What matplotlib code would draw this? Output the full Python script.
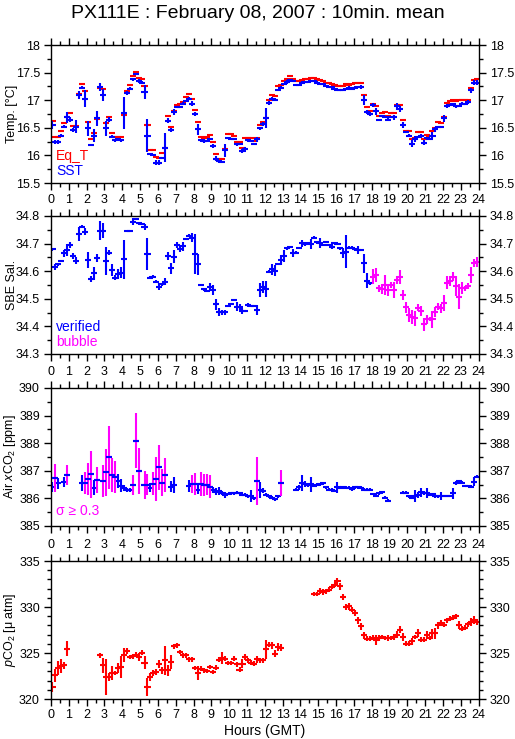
import numpy as np
import matplotlib
matplotlib.use("Agg")
import matplotlib.pyplot as plt
from matplotlib.ticker import MultipleLocator

plt.rcParams['font.family'] = ['Liberation Sans', 'DejaVu Sans']
plt.rcParams['mathtext.fontset'] = 'custom'
plt.rcParams['mathtext.rm'] = 'Liberation Sans'
plt.rcParams['mathtext.it'] = 'Liberation Sans:italic'

N = None
title = "PX111E : February 08, 2007 : 10min. mean"
hour_ticks = list(range(0, 25))

# ---- Panel 1: temperatures (10-min slots, 0..143) ----
sst = [16.55, 16.24, 16.24, 16.36, 16.52, 16.69, 16.65, 16.46, 16.52, 17.09,
       17.23, 17.03, 16.49, 16.19, 16.36, 16.67, 17.24, 17.09, 16.49, 16.65,
       16.34, 16.27, 16.30, 16.27, 16.77, 17.13, 17.21, 17.38, 17.47, 17.35,
       17.32, 17.15, 16.36, 16.03, 16.01, 15.87, 15.87, 15.95, 16.14, 16.63,
       16.46, 16.79, 16.88, 16.88, 16.94, 16.99, 17.03, 16.94, 16.75, 16.47,
       16.27, 16.26, 16.26, 16.30, 16.17, 15.94, 15.89, 15.88, 16.09, 16.32,
       16.30, 16.29, 16.20, 16.20, 16.08, 16.12, 16.27, 16.26, 16.20, 16.29,
       16.49, 16.57, 16.67, 16.95, 17.03, 17.01, 17.19, 17.23, 17.29, 17.33,
       17.36, 17.35, 17.27, 17.27, 17.32, 17.33, 17.33, 17.35, 17.35, 17.32,
       17.30, 17.29, 17.26, 17.24, 17.24, 17.21, 17.18, 17.18, 17.19, 17.21,
       17.23, 17.21, 17.23, 17.24, 17.24, 17.00, 16.79, 16.75, 16.91, 16.80,
       16.64, 16.71, 16.70, 16.65, 16.69, 16.69, 16.89, 16.84, 16.55, 16.43,
       16.36, 16.21, 16.30, 16.34, 16.35, 16.23, 16.32, 16.30, 16.36, 16.47,
       16.52, 16.52, 16.67, 16.89, 16.91, 16.93, 16.89, 16.89, 16.94, 16.93,
       16.97, 17.18, 17.32, 17.32]
sst_sd = [0.08, 0.03, 0.03, 0.03, 0.03, 0.10, 0.05, 0.03, 0.12, 0.07,
          0.03, 0.15, 0.14, 0.02, 0.12, 0.13, 0.08, 0.11, 0.13, 0.05,
          0.03, 0.03, 0.02, 0.03, 0.29, 0.03, 0.03, 0.03, 0.02, 0.03,
          0.02, 0.12, 0.30, 0.02, 0.02, 0.04, 0.04, 0.02, 0.26, 0.05,
          0.04, 0.05, 0.02, 0.02, 0.02, 0.02, 0.02, 0.04, 0.03, 0.10,
          0.03, 0.03, 0.02, 0.02, 0.03, 0.05, 0.02, 0.02, 0.11, 0.02,
          0.02, 0.02, 0.03, 0.02, 0.04, 0.03, 0.02, 0.02, 0.02, 0.05,
          0.03, 0.04, 0.18, 0.03, 0.02, 0.03, 0.02, 0.02, 0.02, 0.03,
          0.02, 0.02, 0.02, 0.02, 0.02, 0.02, 0.02, 0.02, 0.02, 0.02,
          0.02, 0.02, 0.02, 0.02, 0.02, 0.02, 0.02, 0.02, 0.02, 0.02,
          0.02, 0.02, 0.02, 0.02, 0.03, 0.09, 0.04, 0.03, 0.04, 0.06,
          0.02, 0.02, 0.02, 0.03, 0.02, 0.04, 0.06, 0.06, 0.05, 0.02,
          0.03, 0.06, 0.05, 0.02, 0.03, 0.04, 0.02, 0.02, 0.07, 0.04,
          0.02, 0.02, 0.06, 0.04, 0.02, 0.02, 0.03, 0.02, 0.02, 0.02,
          0.03, 0.05, 0.05, 0.04]
eq_t = [16.62, 16.33, 16.33, 16.44, 16.58, 16.70, 16.76, 16.53, 16.53, 17.12,
        17.29, 17.17, 16.60, 16.29, 16.41, 16.66, 17.22, 17.20, 16.59, 16.70,
        16.40, 16.33, 16.34, 16.34, 16.73, 17.16, 17.27, 17.43, 17.51, 17.41,
        17.38, 17.25, 16.55, 16.10, 16.09, 15.97, 15.95, 16.04, 16.13, 16.71,
        16.51, 16.81, 16.92, 16.94, 16.97, 17.05, 17.11, 17.02, 16.82, 16.60,
        16.33, 16.31, 16.33, 16.37, 16.25, 16.03, 15.94, 15.93, 16.12, 16.38,
        16.38, 16.35, 16.25, 16.25, 16.14, 16.31, 16.31, 16.31, 16.26, 16.32,
        16.55, 16.60, 16.67, 17.00, 17.09, 17.07, 17.25, 17.28, 17.35, 17.38,
        17.44, 17.39, 17.35, 17.34, 17.37, 17.38, 17.39, 17.40, 17.40, 17.38,
        17.36, 17.35, 17.31, 17.31, 17.29, 17.27, 17.25, 17.26, 17.26, 17.29,
        17.28, 17.30, 17.31, 17.31, 17.31, 17.10, 16.88, 16.80, 16.93, 16.89,
        16.71, 16.77, 16.78, 16.72, 16.77, 16.77, 16.92, 16.92, 16.64, 16.44,
        16.44, 16.30, 16.32, 16.42, 16.42, 16.30, 16.37, 16.36, 16.45, 16.49,
        16.60, 16.59, 16.69, 16.95, 16.98, 17.00, 16.99, 17.00, 17.00, 17.00,
        17.00, 17.22, 17.37, 17.39]

# ---- Panel 2: SBE salinity ----
sal = [34.679, 34.616, 34.625, 34.637, 34.665, 34.677, 34.695, 34.655, 34.638, 34.734,
       34.761, 34.743, 34.640, 34.572, 34.592, 34.649, 34.747, 34.747, 34.637, 34.667,
       34.604, 34.577, 34.590, 34.595, 34.643, 34.746, 34.747, 34.780, 34.788, 34.773,
       34.771, 34.761, 34.662, 34.577, 34.580, 34.562, 34.544, 34.552, 34.562, 34.655,
       34.610, 34.653, 34.695, 34.679, 34.690, 34.717, 34.728, 34.722, 34.662, 34.625,
       34.550, 34.534, 34.529, 34.544, 34.532, 34.481, 34.451, 34.451, 34.451, 34.474,
       34.481, 34.496, 34.471, 34.471, 34.456, 34.456, 34.478, 34.475, 34.474, 34.459,
       34.532, 34.542, 34.535, 34.598, 34.607, 34.602, 34.626, 34.640, 34.655, 34.683,
       34.689, 34.667, 34.667, 34.683, 34.701, 34.697, 34.701, 34.697, 34.722, 34.705,
       34.701, 34.695, 34.707, 34.695, 34.689, 34.703, 34.698, 34.683, 34.665, 34.671,
       34.685, 34.685, 34.679, 34.677, 34.677, 34.628, 34.566, 34.556, 34.580, 34.586,
       34.538, 34.534, 34.550, 34.532, 34.550, 34.532, 34.568, 34.578, 34.514, 34.469,
       34.441, 34.435, 34.429, 34.468, 34.457, 34.407, 34.426, 34.426, 34.426, 34.453,
       34.471, 34.465, 34.484, 34.558, 34.564, 34.580, 34.546, 34.508, 34.538, 34.538,
       34.546, 34.586, 34.631, 34.635]
sal_sd = [0.006, 0.010, 0.005, 0.004, 0.013, 0.023, 0.011, 0.012, 0.013, 0.025,
          0.006, 0.012, 0.030, 0.010, 0.025, 0.015, 0.035, 0.026, 0.050, 0.010,
          0.022, 0.010, 0.018, 0.021, 0.071, 0.004, 0.004, 0.012, 0.004, 0.005,
          0.004, 0.011, 0.058, 0.005, 0.005, 0.005, 0.013, 0.004, 0.013, 0.014,
          0.019, 0.025, 0.011, 0.011, 0.016, 0.004, 0.005, 0.018, 0.073, 0.039,
          0.005, 0.005, 0.004, 0.013, 0.018, 0.020, 0.014, 0.010, 0.008, 0.005,
          0.004, 0.004, 0.016, 0.010, 0.010, 0.005, 0.008, 0.004, 0.005, 0.017,
          0.024, 0.021, 0.030, 0.005, 0.020, 0.021, 0.005, 0.019, 0.020, 0.005,
          0.004, 0.015, 0.005, 0.004, 0.013, 0.005, 0.005, 0.018, 0.004, 0.005,
          0.018, 0.005, 0.004, 0.005, 0.010, 0.004, 0.004, 0.005, 0.018, 0.060,
          0.005, 0.005, 0.005, 0.015, 0.005, 0.036, 0.026, 0.005, 0.028, 0.025,
          0.012, 0.018, 0.038, 0.021, 0.012, 0.028, 0.014, 0.025, 0.017, 0.021,
          0.024, 0.026, 0.027, 0.013, 0.018, 0.023, 0.016, 0.008, 0.030, 0.018,
          0.012, 0.017, 0.028, 0.023, 0.017, 0.016, 0.036, 0.044, 0.022, 0.008,
          0.012, 0.030, 0.015, 0.018]
sal_flag = ['verified'] * 108 + ['bubble'] * 36

# ---- Panel 3: Air xCO2 ----
xco2 = [386.40, 386.73, 386.55, N, 386.61, 386.85, N, N, N, N,
        386.55, 386.57, 386.70, 386.88, 386.39, 386.67, N, 386.63, 386.95, 387.49,
        386.85, 386.77, 386.63, 386.46, 386.37, 386.31, 386.31, 386.49, 388.09, 387.00,
        N, 386.49, 386.49, 386.39, 386.53, 386.70, 387.13, 386.57, 386.85, N,
        386.43, 386.49, N, N, N, N, 386.45, 386.53, 386.53, 386.31,
        386.53, 386.50, 386.49, 386.43, 386.31, 386.25, 386.27, 386.19, 386.13, 386.16,
        386.19, 386.19, 386.21, 386.19, 386.13, 386.13, 386.07, 386.09, 386.00, 386.63,
        386.31, 386.28, 386.13, 386.07, 386.03, 385.97, 386.07, 386.55, N, N,
        N, N, 386.31, 386.40, 386.55, 386.53, 386.49, 386.51, 386.45, 386.49,
        386.51, 386.55, 386.40, 386.31, 386.31, 386.27, 386.40, 386.39, 386.40, 386.39,
        386.39, 386.33, 386.40, 386.40, 386.39, 386.31, 386.31, 386.31, 386.16, 386.10,
        386.19, 386.22, 386.03, 385.92, N, N, N, N, 386.21, 386.21,
        386.07, 386.03, 386.09, 386.13, 386.22, 386.19, 386.19, 386.13, 386.16, 386.09,
        386.07, 386.09, 386.09, 386.09, 386.09, 386.19, 386.55, 386.63, 386.57, 386.45,
        386.45, 386.43, 386.61, 386.79]
xco2_sd = [0.18, 0.50, 0.20, N, 0.18, 0.35, N, N, N, N,
           0.28, 0.40, 0.57, 0.85, 0.28, 0.47, N, 0.59, 0.85, 1.15,
           0.62, 0.59, 0.25, 0.24, 0.10, 0.08, 0.08, 0.35, 1.00, 0.84,
           N, 0.52, 0.38, 0.17, 0.42, 0.80, 0.82, 0.50, 0.61, N,
           0.21, 0.29, N, N, N, N, 0.21, 0.33, 0.40, 0.16,
           0.43, 0.40, 0.38, 0.41, 0.10, 0.12, 0.16, 0.08, 0.12, 0.05,
           0.05, 0.05, 0.05, 0.05, 0.05, 0.05, 0.05, 0.23, 0.06, 0.88,
           0.28, 0.10, 0.06, 0.05, 0.05, 0.06, 0.06, 0.47, N, N,
           N, N, 0.05, 0.08, 0.28, 0.10, 0.06, 0.26, 0.05, 0.05,
           0.05, 0.06, 0.05, 0.05, 0.05, 0.05, 0.19, 0.05, 0.05, 0.05,
           0.05, 0.05, 0.05, 0.05, 0.05, 0.05, 0.05, 0.05, 0.05, 0.05,
           0.05, 0.05, 0.06, 0.06, N, N, N, N, 0.06, 0.05,
           0.05, 0.05, 0.21, 0.10, 0.16, 0.08, 0.18, 0.06, 0.05, 0.06,
           0.05, 0.15, 0.05, 0.05, 0.05, 0.20, 0.08, 0.05, 0.05, 0.05,
           0.05, 0.05, 0.15, 0.06]
sigma_limit = 0.3

# ---- Panel 4: pCO2 ----
pco2 = [321.30, 322.57, 323.37, 323.55, 323.66, 325.47, N, N, N, N,
        N, N, N, N, N, N, 324.75, 323.66, 322.39, 322.39,
        322.83, 322.83, 323.37, 323.48, 324.75, 325.22, 324.57, 324.64, 324.82, 324.57,
        325.04, 323.95, 321.30, 322.39, 322.83, 322.93, 323.84, 323.12, 324.20, 323.12,
        324.02, 325.72, 325.83, 325.11, 324.75, 324.75, 324.31, 324.31, 323.37, 322.83,
        323.30, 323.12, 323.04, 323.48, 322.93, 323.41, 324.28, 324.46, 324.38, 323.91,
        323.91, 324.38, 323.77, 323.19, 323.84, 324.57, 324.20, 323.95, 323.84, 324.31,
        324.20, 324.20, 325.40, 325.91, 325.83, 324.93, 325.65, 325.58, N, N,
        N, N, N, N, N, N, N, N, 331.38, 331.45,
        331.74, 331.63, 331.70, 331.88, 332.17, 332.43, 332.83, 332.25, 331.09, 330.00,
        330.07, 329.71, 329.35, 328.55, 327.90, 326.92, 326.56, 326.56, 326.67, 326.45,
        326.63, 326.74, 326.63, 326.63, 326.63, 326.74, 326.99, 327.54, 326.74, 326.01,
        326.01, 326.27, 326.74, 327.17, 326.45, 326.45, 326.99, 326.63, 327.17, 327.17,
        328.01, 328.26, 328.08, 328.55, 328.73, 328.84, 328.99, 328.08, 327.64, 327.75,
        328.12, 328.37, 328.55, 328.37]
pco2_sd = [0.50, 0.72, 0.72, 0.75, 0.40, 0.85, N, N, N, N,
           N, N, N, N, N, N, 0.30, 0.78, 2.00, 0.40,
           0.80, 0.25, 0.55, 1.20, 0.75, 0.30, 0.25, 0.25, 0.25, 0.45,
           0.25, 0.70, 1.00, 0.40, 0.30, 0.30, 0.45, 0.40, 1.60, 0.60,
           0.75, 0.25, 0.25, 0.25, 0.30, 0.25, 0.25, 0.25, 0.25, 0.75,
           0.25, 0.25, 0.25, 0.25, 0.25, 0.25, 0.30, 0.65, 0.30, 0.25,
           0.25, 0.25, 0.25, 0.30, 0.50, 0.30, 0.25, 0.25, 0.25, 0.40,
           0.30, 0.30, 1.00, 0.30, 0.40, 0.40, 0.40, 0.40, N, N,
           N, N, N, N, N, N, N, N, 0.20, 0.20,
           0.30, 0.30, 0.25, 0.25, 0.25, 0.25, 0.30, 0.35, 0.35, 0.35,
           0.35, 0.30, 0.30, 0.35, 0.35, 0.35, 0.30, 0.25, 0.30, 0.55,
           0.30, 0.25, 0.25, 0.30, 0.25, 0.30, 0.35, 0.35, 0.45, 0.30,
           0.30, 0.35, 0.25, 0.40, 0.25, 0.30, 0.40, 0.25, 0.40, 0.60,
           0.40, 0.35, 0.30, 0.30, 0.30, 0.30, 0.25, 0.45, 0.30, 0.25,
           0.30, 0.40, 0.45, 0.35]

RED = '#ff0000'
BLUE = '#0000ff'
MAG = '#ff00ff'


def arr(x):
    return np.array([np.nan if v is None else v for v in x], dtype=float)


def slots(n):
    return np.arange(n) / 6.0 + 1.0 / 12.0


HALF = 0.17  # half-width of each 10-min bar (hours)
LW = 1.5


def crosses(ax, t, v, sd, hcolor, vcolor=None, vert=True):
    t = np.asarray(t); v = np.asarray(v); sd = np.asarray(sd)
    m = ~np.isnan(v)
    ax.hlines(v[m], t[m] - HALF, t[m] + HALF, colors=hcolor, lw=LW)
    if vert:
        vc = vcolor if vcolor is not None else hcolor
        ax.vlines(t[m], v[m] - sd[m], v[m] + sd[m], colors=vc, lw=LW)


fig = plt.figure(figsize=(5.15, 7.39), dpi=100)
fig.patch.set_facecolor('white')
L, W, H = 51 / 515, 427.5 / 515, 138 / 739
bottoms = [1 - 183 / 739, 1 - 354 / 739, 1 - 526 / 739, 1 - 699 / 739]
axes = [fig.add_axes([L, b, W, H]) for b in bottoms]

FS = 9
YLX = (18 - 51) / 427.5
for i, ax in enumerate(axes):
    ax.set_xlim(0, 24)
    ax.xaxis.set_major_locator(MultipleLocator(1))
    ax.xaxis.set_minor_locator(MultipleLocator(0.5))
    ax.tick_params(axis='both', which='both', direction='out', labelsize=FS,
                   width=1, top=True, right=True, labelright=True,
                   labeltop=(i > 0), labelbottom=(i == 3))
    ax.tick_params(which='major', length=5)
    ax.tick_params(which='minor', length=3)
    ax.tick_params(axis='x', which='major', pad=2)
    ax.tick_params(axis='y', which='major', pad=3)
    ax.set_xticks(hour_ticks)
    ax.set_xticklabels([str(h) for h in hour_ticks])
    for s in ax.spines.values():
        s.set_linewidth(1)

# Panel 1
ax = axes[0]
t = slots(len(sst))
crosses(ax, t, arr(eq_t), np.zeros(len(eq_t)), RED, vert=False)
crosses(ax, t, arr(sst), arr(sst_sd), BLUE)
ax.set_ylim(15.5, 18)
ax.yaxis.set_major_locator(MultipleLocator(0.5))
ax.yaxis.set_minor_locator(MultipleLocator(0.25))
ax.yaxis.set_major_formatter(matplotlib.ticker.FuncFormatter(lambda v, p: f"{v:g}"))
ax.set_ylabel("Temp. [°C]", fontsize=FS)
ax.text(0.012, 0.17, "Eq_T", color=RED, transform=ax.transAxes, fontsize=FS + 1)
ax.text(0.012, 0.06, "SST", color=BLUE, transform=ax.transAxes, fontsize=FS + 1)

# Panel 2
ax = axes[1]
t = slots(len(sal))
s = arr(sal); ssd = arr(sal_sd)
ver = np.array([f == 'verified' for f in sal_flag])
crosses(ax, t[ver], s[ver], ssd[ver], BLUE)
crosses(ax, t[~ver], s[~ver], ssd[~ver], MAG)
ax.set_ylim(34.3, 34.8)
ax.yaxis.set_major_locator(MultipleLocator(0.1))
ax.yaxis.set_minor_locator(MultipleLocator(0.05))
ax.yaxis.set_major_formatter(matplotlib.ticker.FormatStrFormatter('%.1f'))
ax.set_ylabel("SBE Sal.", fontsize=FS)
ax.text(0.012, 0.17, "verified", color=BLUE, transform=ax.transAxes, fontsize=FS + 1)
ax.text(0.012, 0.06, "bubble", color=MAG, transform=ax.transAxes, fontsize=FS + 1)

# Panel 3
ax = axes[2]
t = slots(len(xco2))
x = arr(xco2); xs = arr(xco2_sd)
hi = xs >= sigma_limit
crosses(ax, t[~hi], x[~hi], xs[~hi], BLUE)
crosses(ax, t[hi], x[hi], xs[hi], BLUE, vcolor=MAG)
ax.hlines(x[hi], t[hi] - HALF, t[hi] + HALF, colors=BLUE, lw=LW, zorder=3)
ax.set_ylim(385, 390)
ax.yaxis.set_major_locator(MultipleLocator(1))
ax.yaxis.set_minor_locator(MultipleLocator(0.5))
ax.set_ylabel("Air $x$CO$_2$ [ppm]", fontsize=FS)
ax.text(0.012, 0.08, "σ ≥ 0.3", color=MAG, transform=ax.transAxes, fontsize=FS + 1)

# Panel 4
ax = axes[3]
t = slots(len(pco2))
crosses(ax, t, arr(pco2), arr(pco2_sd), RED)
ax.set_ylim(320, 335)
ax.yaxis.set_major_locator(MultipleLocator(5))
ax.yaxis.set_minor_locator(MultipleLocator(1))
ax.set_ylabel("$p$CO$_2$ [μ atm]", fontsize=FS)
ax.set_xlabel("Hours (GMT)", fontsize=FS + 1, labelpad=2)

for ax in axes:
    ax.yaxis.set_label_coords(YLX, 0.5)

fig.text(0.5, 1 - 14 / 739, title, ha='center', va='center', fontsize=14)

fig.savefig("out.png", dpi=100, facecolor='white')
